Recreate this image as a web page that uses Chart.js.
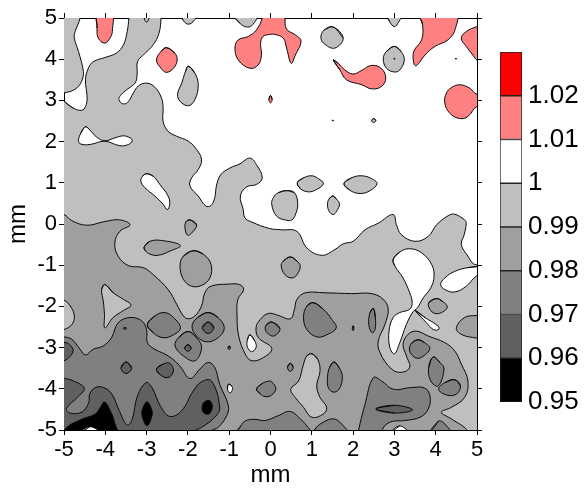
<!DOCTYPE html>
<html><head><meta charset="utf-8">
<script src="https://cdn.jsdelivr.net/npm/chart.js@4"></script>
<style>
html,body{margin:0;padding:0;background:#fff;width:584px;height:490px;overflow:hidden}
canvas{position:absolute;display:block}
</style></head><body>
<canvas id="map" width="584" height="490" style="left:0;top:0;width:584px;height:490px"></canvas>
<canvas id="bar" width="94" height="385" style="left:490px;top:40px;width:94px;height:385px"></canvas>
<script>
// Axis ticks and colour levels
const axisTicks = [-5,-4,-3,-2,-1,0,1,2,3,4,5];
const levelTicks = [0.95,0.96,0.97,0.98,0.99,1,1.01,1.02];
const levelEdges = [0.95,0.96,0.97,0.98,0.99,1,1.01,1.02,1.03];
const levelColors = ['#000000','#606060','#808080','#9f9f9f','#bfbfbf','#ffffff','#ff8080','#ff0000'];

// Contour regions: x,y pairs in mm
// band 0.99-1
const g_main=[-5.3,3.1,-4.77,2.81,-4.57,2.76,-4.48,2.85,-4.44,3.06,-4.48,3.5,-4.41,3.78,-4.29,3.94,-4.01,4.04,-3.73,4.15,-3.56,4.35,-3.47,4.67,-3.43,5,-3.42,5.3,-2.65,5.3,-2.65,5,-2.7,4.63,-2.84,4.35,-3.08,4.1,-3.22,3.94,-3.23,3.62,-3.28,3.42,-3.48,3.26,-3.63,3.12,-3.67,3.02,-3.58,2.92,-3.46,2.95,-3.32,3.18,-3.2,3.35,-3,3.42,-2.8,3.32,-2.64,3.06,-2.6,2.81,-2.6,2.49,-2.48,2.25,-2.27,2.13,-1.99,2.01,-1.79,1.81,-1.67,1.56,-1.75,1.32,-1.91,1.12,-1.95,.92,-1.75,.68,-1.57,.44,-1.44,.45,-1.35,.64,-1.31,.92,-1.21,1.19,-.98,1.36,-.74,1.46,-.5,1.6,-.34,1.44,-.2,1.12,-.34,.96,-.58,.9,-.73,.68,-.66,.35,-.62,.15,-.46,.05,-.02,-.11,.27,-.14,.64,-.18,.88,-.58,1.24,-.76,1.56,-.62,1.76,-.48,2,-.42,2.29,-.14,2.61,.02,2.97,.23,3.05,-.02,3.17,-.26,3.5,-.42,3.82,-.3,4.02,-.02,4.3,.2,4.45,.24,4.7,.1,4.74,.02,4.69,-.26,4.62,-.5,4.78,-.78,4.94,-.98,5.3,-1,5.4,-5.4,-5.4,-5.4];
const g_topLeft=[-5.4,5.4,-4.58,5.4,-4.61,5,-4.73,4.67,-4.75,4.51,-4.65,4.19,-4.53,3.7,-4.56,3.5,-4.65,3.34,-4.81,3.23,-5,3.18,-5.4,3.05];
const g_a=[-3.06,5.1,-3.05,4.97,-3,4.9,-2.95,4.97,-2.94,5.1];
const g_b=[-2.16,5.1,-2.12,4.95,-1.99,4.85,-1.85,4.94,-1.8,5.1];
const g_c=[-.9,5.1,-.74,4.87,-.56,4.78,-.42,4.85,-.32,5.1];
const g_d=[-1.99,3.83,-1.83,3.66,-1.75,3.38,-1.83,3.02,-1.99,2.87,-2.19,2.98,-2.25,3.15,-2.15,3.42,-2.06,3.7];
const g_e=[1.52,4.78,1.76,4.51,1.56,4.27,1.32,4.36,1.22,4.52,1.3,4.71];
const g_f=[3,4.31,3.16,4.19,3.24,3.98,3.13,3.74,3,3.69,2.81,3.78,2.73,4.01,2.81,4.19];
const g_g=[2.81,5.1,2.88,4.92,3,4.79,3.1,4.9,3.18,5.1];
const g_h=[.65,1,.8,1.12,1,1.17,1.16,1.1,1.28,.98,1.12,.84,.92,.78,.72,.86];
const g_i=[1.78,.98,1.96,1.12,2.21,1.17,2.45,1.1,2.58,.98,2.41,.81,2.17,.74,1.92,.82];
const g_j=[1.51,.68,1.6,.6,1.67,.48,1.6,.31,1.52,.23,1.42,.31,1.38,.48,1.42,.61];
const g_k=[.39,.81,.58,.76,.66,.48,.6,.22,.52,.1,.39,.09,.15,.19,.03,.48,.07,.64,.19,.76];
const g_ring=[2.5,2.56,2.55,2.51,2.5,2.46,2.45,2.51];
// band 1-1.01 holes
const w_a=[-4.48,2.36,-4.38,2.29,-4.21,2.11,-4.01,2.02,-3.77,2.09,-3.56,2.14,-3.4,2.09,-3.35,2.02,-3.44,1.93,-3.65,1.9,-4.01,2.01,-4.37,1.93,-4.59,1.94,-4.65,2.02,-4.59,2.21];
const w_b=[-3,1.22,-2.84,1.16,-2.68,.96,-2.48,.68,-2.44,.48,-2.5,.35,-2.6,.48,-2.8,.68,-3.04,.88,-3.14,1.04,-3.1,1.16];
const w_c=[2.97,-.86,3.13,-.68,3.37,-.6,3.66,-.7,3.9,-.98,3.96,-1.27,3.88,-1.55,3.7,-1.79,3.56,-2.03,3.45,-2.13,3.29,-2.44,3.13,-2.88,3,-3.15,2.89,-3,2.87,-2.6,2.97,-2.27,3.13,-2.15,3.37,-2.07,3.43,-1.91,3.37,-1.67,3.21,-1.31,3.01,-1.02];
const w_d=[3.51,-2.1,3.74,-2.27,4.06,-2.48,4.07,-2.56,3.94,-2.56,3.78,-2.4,3.62,-2.23];
const w_e=[5.2,-1.03,4.78,-1.06,4.46,-1.15,4.22,-1.31,4.12,-1.47,4.22,-1.59,4.46,-1.65,4.74,-1.51,4.93,-1.31,5.2,-1.1];
const w_f=[-.5,-2.69,-.38,-2.84,-.35,-3,-.46,-3.1,-.56,-2.98,-.56,-2.82];
const w_g=[-1.02,-3.89,-.94,-3.93,-.92,-4.01,-.98,-4.1,-1.04,-4.01];
const w_h=[-4.62,-5.1,-4.37,-4.92,-4.1,-5.1];
const w_i=[2.9,-5.1,3.13,-4.9,3.36,-5.1];
// band 0.98-0.99
const d_main=[-5.4,.3,-5,.23,-4.81,.08,-4.45,-.03,-4.01,.06,-3.65,.1,-3.4,-.02,-3.65,-.18,-3.77,-.46,-3.69,-.78,-3.44,-1.01,-3.08,-1.06,-2.84,-1.23,-2.48,-1.59,-2.27,-1.95,-2.11,-2.23,-1.99,-2.3,-1.83,-2.23,-1.67,-1.99,-1.59,-1.67,-1.44,-1.51,-1.03,-1.46,-.75,-1.47,-.65,-1.59,-.79,-1.83,-.81,-2.24,-.77,-2.72,-.61,-3.16,-.45,-3.32,-.17,-3.24,.03,-3.02,-.29,-2.76,-.35,-2.52,-.25,-2.32,-.05,-2.17,.19,-2.22,.48,-2.3,.58,-2.07,.64,-1.83,.84,-1.67,1.32,-1.67,1.97,-1.69,2.45,-1.69,2.73,-1.83,2.85,-2.07,2.77,-2.44,2.61,-2.84,2.65,-3.12,2.93,-3.52,3.17,-3.6,3.37,-3.48,3.29,-3.2,3.21,-2.92,3.33,-2.68,3.53,-2.6,3.82,-2.72,4.22,-2.88,4.46,-3.08,4.62,-3.4,4.78,-3.81,4.7,-4.21,4.38,-4.45,4.14,-4.57,4.38,-4.73,4.78,-5.02,4.95,-5.4,-5.4,-5.4];
const d_a=[-3.06,-.56,-2.92,-.42,-2.64,-.4,-2.18,-.52,-2.44,-.66,-2.72,-.76,-2.92,-.73,-3.03,-.65];
const d_b=[-1.95,.1,-1.79,-.02,-1.91,-.22,-2.01,-.27,-2.07,-.1,-2.05,.05];
const d_c=[-1.87,-.65,-1.63,-.73,-1.44,-.98,-1.47,-1.31,-1.67,-1.49,-1.91,-1.51,-2.11,-1.34,-2.19,-1.02,-2.11,-.78];
const d_d=[.48,-.8,.64,-.9,.72,-1.02,.64,-1.23,.52,-1.31,.35,-1.23,.26,-1.02,.31,-.9];
const d_e=[4.02,-1.81,4.18,-1.89,4.28,-2.02,4.14,-2.15,3.98,-2.17,3.86,-2.07,3.83,-1.91];
const d_f=[5.3,-2.2,5,-2.22,4.7,-2.27,4.5,-2.52,4.62,-2.68,5,-2.77,5.3,-2.8];
// light pockets inside the 0.98-0.99 band
const l_a=[-4.01,-1.47,-3.81,-1.67,-3.56,-1.83,-3.38,-1.97,-3.56,-2.1,-3.81,-2.27,-4.01,-2.52,-4.02,-2.19,-4.05,-1.87,-4.09,-1.59];
const l_b=[-5.3,-1.8,-5,-1.85,-4.85,-1.99,-4.75,-2.23,-4.81,-2.44,-5,-2.56,-5.3,-2.6];
const l_c=[1,-3.15,1.14,-3.28,1.2,-3.56,1.12,-3.93,1.2,-4.21,1.36,-4.45,1.28,-4.61,1,-4.69,.8,-4.45,.6,-4.21,.49,-4.01,.68,-3.81,.8,-3.4,.88,-3.2];
// band 0.97-0.98
const m_main=[-5.4,-2.7,-5,-2.74,-4.81,-2.8,-4.61,-3.04,-4.48,-3.18,-4.29,-3.04,-4.05,-2.96,-3.85,-2.76,-3.69,-2.4,-3.4,-2.27,-3.12,-2.35,-3,-2.56,-2.98,-2.88,-2.8,-3.04,-2.48,-3.2,-2.2,-3.44,-1.95,-3.75,-1.71,-3.52,-1.51,-3.36,-1.35,-3.48,-1.23,-3.89,-1.02,-4.41,-1.06,-4.65,-1.27,-4.94,-1.43,-5.02,-1.55,-5.4,-5.4,-5.4];
const m_a=[-2.98,-2.44,-2.8,-2.23,-2.56,-2.15,-2.35,-2.27,-2.18,-2.52,-2.35,-2.69,-2.6,-2.76,-2.84,-2.64];
const m_b=[-1.51,-2.15,-1.27,-2.27,-1.12,-2.52,-1.27,-2.76,-1.55,-2.86,-1.79,-2.72,-1.9,-2.47,-1.75,-2.26];
const m_c=[-1.99,-2.61,-1.79,-2.76,-1.67,-3,-1.83,-3.32,-2.11,-3.2,-2.31,-2.96,-2.23,-2.76];
const m_d=[1.04,-1.91,1.28,-2.07,1.48,-2.31,1.59,-2.52,1.36,-2.69,1.12,-2.74,.88,-2.56,.8,-2.27,.88,-1.99];
const m_e=[2.49,-2.05,2.54,-2.27,2.53,-2.56,2.46,-2.64,2.38,-2.44,2.41,-2.15];
const m_f=[.03,-2.38,.23,-2.54,.07,-2.72,-.11,-2.6,-.11,-2.46];
const m_g=[.48,-3.38,.55,-3.48,.48,-3.58,.41,-3.48];
const m_h=[1.54,-3.35,1.68,-3.52,1.74,-3.73,1.66,-4.01,1.52,-4.08,1.4,-3.97,1.38,-3.73,1.43,-3.48];
const m_i=[-.34,-4.01,-.2,-3.87,-.02,-3.81,.03,-3.83,.13,-3.99,.03,-4.15,-.13,-4.19,-.25,-4.12];
const m_j=[-.85,-5.15,-.72,-4.9,-.61,-4.78,-.4,-4.74,-.13,-4.77,.19,-4.65,.48,-4.55,.72,-4.73,.88,-4.9,1.03,-5.15];
const m_k=[1,-5.15,1.1,-4.95,1.28,-4.81,1.52,-4.73,1.72,-4.85,1.9,-5.15];
const m_l=[2.1,-5.3,2.13,-5.02,2.29,-4.37,2.49,-3.73,2.69,-3.81,2.97,-4.01,3.41,-3.97,3.73,-3.98,3.86,-4.17,3.82,-4.49,3.62,-4.69,3.25,-4.77,2.89,-4.81,2.69,-5.02,2.65,-5.3];
const m_m=[3.57,-2.81,3.73,-2.88,3.86,-3.02,3.65,-3.24,3.5,-3.24,3.37,-3.08,3.41,-2.9];
const m_n=[3.94,-3.23,4.1,-3.36,4.2,-3.52,4.06,-3.93,3.88,-3.81,3.83,-3.48];
const m_o=[4.46,-3.78,4.6,-3.93,4.5,-4.13,4.26,-4.15,4.07,-4.01,4.22,-3.85];
const m_p=[3.83,-5.2,4.06,-4.79,4.22,-4.85,4.42,-5.2];
// band 0.96-0.97
const s_main=[-5.4,-3.72,-5,-3.75,-4.77,-3.81,-4.51,-3.99,-4.68,-4.21,-4.94,-4.48,-4.85,-4.59,-4.56,-4.56,-4.4,-4.33,-4.38,-4.13,-4.24,-3.97,-4.04,-3.97,-3.84,-4.13,-3.68,-4.49,-3.47,-4.88,-3.35,-4.74,-3.22,-4.17,-3.01,-3.85,-2.87,-3.97,-2.67,-4.41,-2.44,-4.67,-2.15,-4.53,-1.87,-4.05,-1.67,-3.83,-1.43,-3.81,-1.23,-4.45,-1.35,-4.69,-1.67,-4.94,-1.83,-5.02,-1.95,-5.4,-5.4,-5.4];
const s_a=[-5.4,-2.85,-4.95,-2.88,-4.84,-2.95,-4.78,-3.08,-4.86,-3.22,-5,-3.32,-5.4,-3.4];
const s_b=[-3.5,-3.35,-3.36,-3.5,-3.5,-3.63,-3.62,-3.5];
const s_c=[-2.76,-3.52,-2.6,-3.4,-2.44,-3.38,-2.35,-3.56,-2.48,-3.73,-2.68,-3.65];
const s_d=[-1.51,-2.38,-1.37,-2.52,-1.51,-2.66,-1.65,-2.52];
const s_e=[-2,-2.93,-1.92,-3.01,-2,-3.09,-2.08,-3.01];
const s_f=[2.55,-4.49,3.01,-4.4,3.44,-4.51,3.01,-4.59];
const s_g=[-3.53,-2.51,-3.49,-2.53,-3.53,-2.56,-3.56,-2.53];
const s_h=[-1,-2.96,-.97,-3,-1,-3.05,-1.03,-3];
const s_i=[2,-2.47,2.02,-2.53,2,-2.59,1.98,-2.53];
// band 0.95-0.96
const k_a=[-5.1,-5.3,-4.98,-4.98,-4.6,-4.75,-4.24,-4.61,-4.12,-4.45,-4.02,-4.32,-3.88,-4.53,-3.78,-4.8,-3.68,-5.3];
const k_b=[-2.99,-4.32,-2.88,-4.5,-2.87,-4.65,-2.99,-4.9,-3.11,-4.65,-3.1,-4.5];
const k_c=[-1.47,-4.29,-1.41,-4.45,-1.49,-4.61,-1.63,-4.57,-1.65,-4.41,-1.6,-4.32];
// band 1.01-1.02
const r_a=[-4.19,5.2,-4.2,4.75,-4.17,4.51,-4.01,4.39,-3.89,4.51,-3.83,4.67,-3.85,5.2];
const r_b=[-2.52,4.28,-2.32,4.15,-2.26,3.98,-2.35,3.78,-2.52,3.68,-2.65,3.78,-2.76,3.98,-2.65,4.19];
const r_c=[-.18,5.2,-.2,5,-.34,4.71,-.54,4.55,-.78,4.47,-.86,4.27,-.78,3.98,-.5,3.78,-.3,3.86,-.22,4.1,-.24,4.39,-.18,4.55,-.02,4.6,.11,4.6,.31,4.51,.39,4.27,.5,3.9,.6,4.1,.74,4.44,.6,4.59,.39,4.73,.35,5,.36,5.2];
const r_d=[1.52,3.98,1.68,3.74,1.84,3.5,2.21,3.38,2.45,3.28,2.69,3.34,2.79,3.54,2.69,3.77,2.45,3.85,2.21,3.73,2,3.64,1.8,3.74,1.64,3.9];
const r_e=[0,3.12,.04,3.02,0,2.94,-.04,3.02];
const r_f=[3.58,5.2,3.68,4.85,3.66,4.47,3.47,4.19,3.47,3.9,3.53,3.84,3.74,4.1,3.98,4.31,4.3,4.47,4.48,4.75,4.49,5.2];
const r_g=[5.3,4.85,5,4.79,4.74,4.67,4.62,4.51,4.74,4.31,4.9,4.1,5,3.98,5.3,3.85];
const r_h=[5.3,3.2,5,3.15,4.82,3.3,4.58,3.38,4.38,3.31,4.26,3.18,4.22,2.94,4.34,2.69,4.58,2.56,4.78,2.61,5,2.85,5.3,2.8];
// tiny specks
const speck_a=[3,4.02,3.015,4.01,3,4,2.985,4.01];
const speck_b=[4.49,4.02,4.505,4.01,4.49,4,4.475,4.01];
const speck_c=[1.51,2.52,1.525,2.51,1.51,2.5,1.495,2.51];

const C = {k:levelColors[0],s:levelColors[1],m:levelColors[2],d:levelColors[3],g:levelColors[4],w:levelColors[5],r:levelColors[6]};
// bottom-to-top painting order
const layers = [
 [g_main,C.g],[g_topLeft,C.g],[g_a,C.g],[g_b,C.g],[g_c,C.g],[g_d,C.g],[g_e,C.g],[g_f,C.g],[g_g,C.g],[g_h,C.g],[g_i,C.g],[g_j,C.g],[g_k,C.g],[g_ring,C.g],
 [w_a,C.w],[w_b,C.w],[w_c,C.w],[w_d,C.w],[w_e,C.w],
 [r_a,C.r],[r_b,C.r],[r_c,C.r],[r_d,C.r],[r_e,C.r],[r_f,C.r],[r_g,C.r],[r_h,C.r],
 [d_main,C.d],[d_a,C.d],[d_b,C.d],[d_c,C.d],[d_d,C.d],[d_e,C.d],[d_f,C.d],
 [l_a,C.g],[l_b,C.g],[l_c,C.g],
 [w_f,C.w],[w_g,C.w],
 [m_main,C.m],[m_a,C.m],[m_b,C.m],[m_c,C.m],[m_d,C.m],[m_e,C.m],[m_f,C.m],[m_g,C.m],[m_h,C.m],[m_i,C.m],[m_j,C.m],[m_k,C.m],[m_l,C.m],[m_m,C.m],[m_n,C.m],[m_o,C.m],[m_p,C.m],
 [w_i,C.w],
 [s_main,C.s],[s_a,C.s],[s_b,C.s],[s_c,C.s],[s_d,C.s],[s_e,C.s],[s_f,C.s],[s_g,C.s],[s_h,C.s],[s_i,C.s],
 [k_a,C.k],[k_b,C.k],[k_c,C.k],
 [w_h,C.w],
 [speck_a,C.k],[speck_b,C.k],[speck_c,C.k]
];
// Wrap each closed region round its first point so the curve has no kink where it closes
function toPoints(flat){
  const p=[];
  for(let i=0;i<flat.length;i+=2)p.push({x:flat[i],y:flat[i+1]});
  const n=p.length;
  return [p[n-1],...p,p[0],p[1]];
}
const datasets = layers.map(([flat,color],i)=>({
  data:toPoints(flat),
  showLine:true,
  fill:'shape',
  backgroundColor:color,
  borderColor:'#0a0a0a',
  borderWidth:1,
  pointRadius:0,
  tension:0.4,
  clip:0,
  order:layers.length-i
}));
const FONT='"Liberation Sans"';
const setTicks = s => { s.ticks = axisTicks.map(v=>({value:v})); };
const noPad = s => { s.paddingTop=0; s.paddingBottom=0; s.paddingLeft=0; s.paddingRight=0; };
const tickGrid = {drawOnChartArea:false,drawTicks:true,tickLength:5,color:'#000',lineWidth:1};
const border = {color:'#000',width:1};
new Chart(document.getElementById('map'),{
  type:'scatter',
  data:{datasets},
  options:{
    responsive:false,animation:false,
    layout:{padding:0},
    plugins:{legend:{display:false},tooltip:{enabled:false}},
    scales:{
      x:{type:'linear',position:'bottom',min:-5,max:5,afterBuildTicks:setTicks,
         afterFit:s=>{s.height=60;noPad(s);},
         grid:tickGrid,border,
         ticks:{color:'#000',font:{family:FONT,size:22},padding:2,maxRotation:0,callback:v=>String(v)},
         title:{display:true,text:'mm',color:'#000',font:{family:FONT,size:24},padding:{top:-3,bottom:0}}},
      xTop:{type:'linear',position:'top',min:-5,max:5,afterBuildTicks:setTicks,
         afterFit:s=>{s.height=18;noPad(s);},
         grid:tickGrid,border,ticks:{display:false}},
      y:{type:'linear',position:'left',min:-5,max:5,afterBuildTicks:setTicks,
         afterFit:s=>{s.width=64;noPad(s);},
         grid:tickGrid,border,
         ticks:{color:'#000',font:{family:FONT,size:22},padding:2,callback:v=>String(v)},
         title:{display:true,text:'mm',color:'#000',font:{family:FONT,size:24},padding:{top:4,bottom:0}}},
      yRight:{type:'linear',position:'right',min:-5,max:5,afterBuildTicks:setTicks,
         afterFit:s=>{s.width=107;noPad(s);},
         grid:tickGrid,border,ticks:{display:false}}
    }
  }
});
new Chart(document.getElementById('bar'),{
  type:'bar',
  data:{labels:['level'],datasets:levelColors.map((c,i)=>({
    data:[[levelEdges[i],levelEdges[i+1]]],
    backgroundColor:c,borderColor:'#222',borderWidth:1,borderSkipped:false,
    barPercentage:1,categoryPercentage:1,grouped:false
  }))},
  options:{
    responsive:false,animation:false,
    layout:{padding:{left:10,top:12,bottom:23,right:0}},
    plugins:{legend:{display:false},tooltip:{enabled:false}},
    scales:{
      x:{display:false},
      y:{type:'linear',position:'right',min:0.95,max:1.03,
         afterBuildTicks:s=>{s.ticks=levelTicks.map(v=>({value:v}));},
         afterFit:s=>{s.width=62;noPad(s);},
         grid:{display:false,drawTicks:false},border:{display:false},
         ticks:{autoSkip:false,color:'#000',font:{family:FONT,size:26},padding:6,align:'center',crossAlign:'near',callback:v=>String(v)}}
    }
  }
});
</script>
</body></html>
